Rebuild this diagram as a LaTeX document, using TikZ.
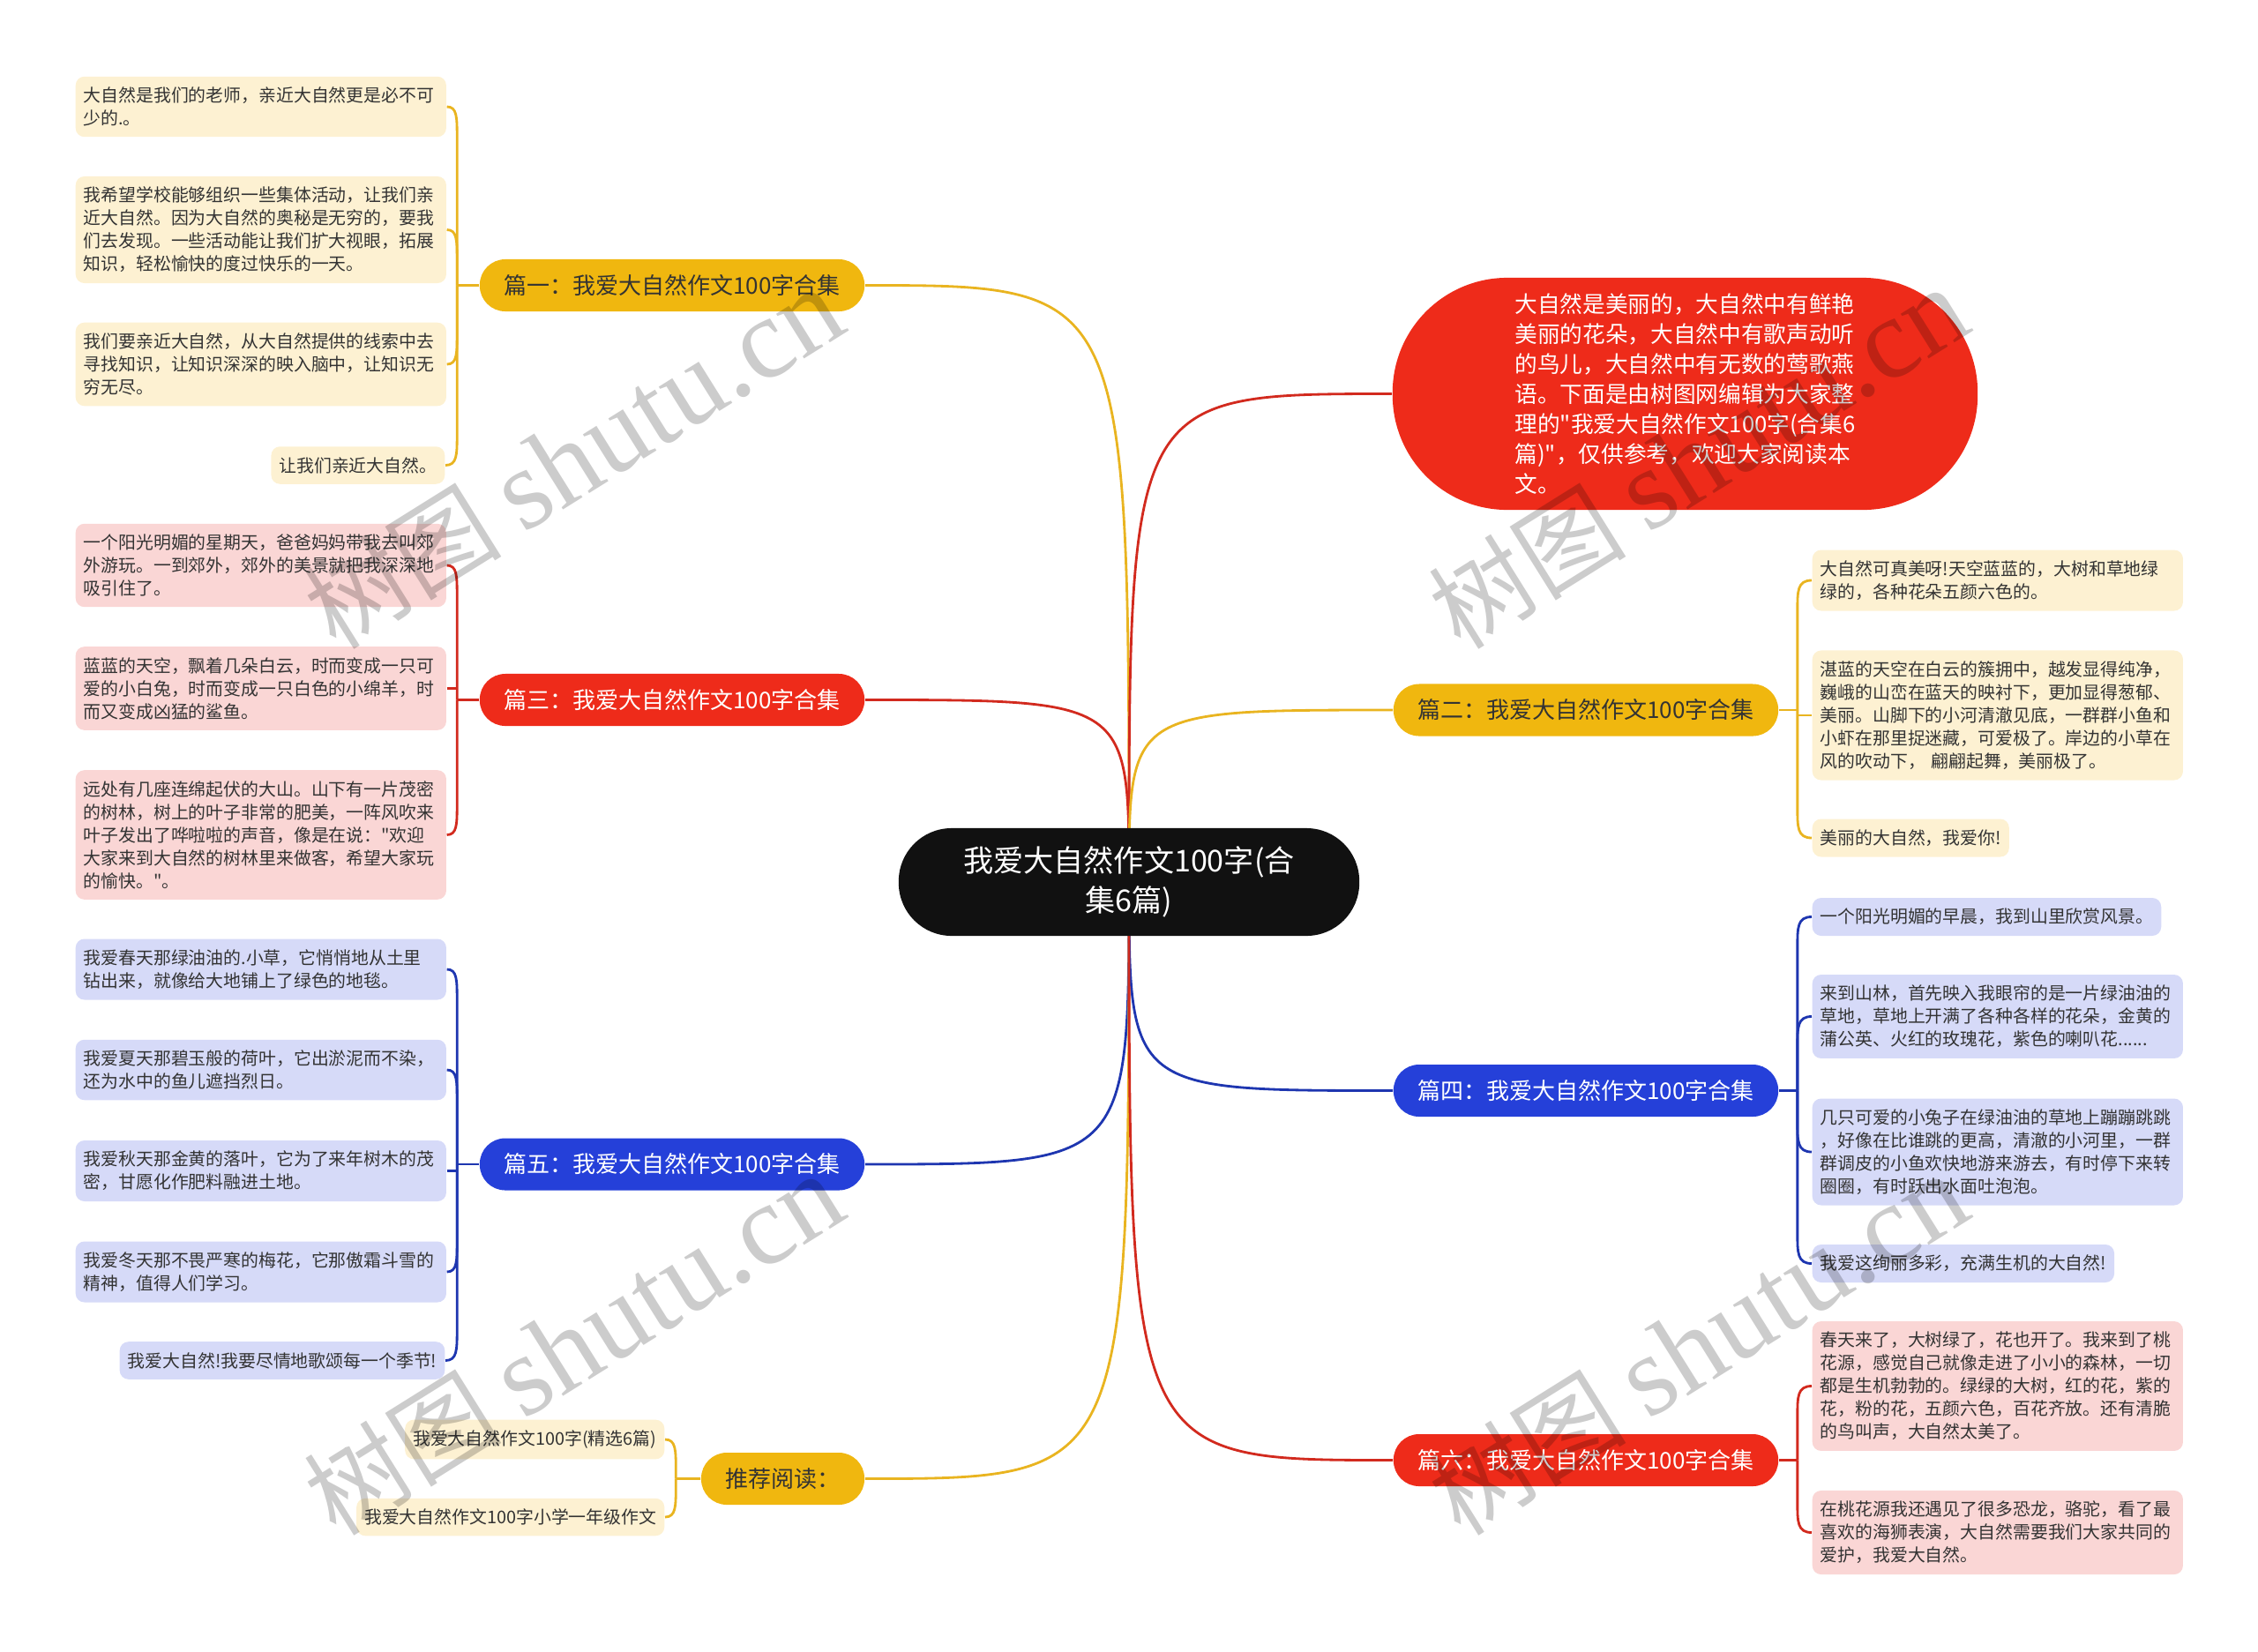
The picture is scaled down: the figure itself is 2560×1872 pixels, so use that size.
\documentclass[tikz,border=0pt]{standalone}
\usepackage{fontspec}
\setmainfont{Noto Sans CJK SC}
\newfontfamily\cjkfont{Noto Sans CJK SC}
\newfontfamily\wmlatin{Liberation Serif}
\usetikzlibrary{calc,backgrounds}

\definecolor{yel}{HTML}{F0B70F}
\definecolor{yelline}{HTML}{E9B420}
\definecolor{yelleaf}{HTML}{FDF1D2}
\definecolor{redfill}{HTML}{EE2B1A}
\definecolor{redline}{HTML}{D22A1E}
\definecolor{redleaf}{HTML}{FAD6D5}
\definecolor{blu}{HTML}{2540D9}
\definecolor{bluline}{HTML}{1E36B0}
\definecolor{bluleaf}{HTML}{D6DAF8}
\definecolor{txt}{HTML}{333333}
\definecolor{centerfill}{HTML}{111111}

\newcommand{\lk}[4]{%
  \draw[conn=#1] (#2) .. controls (#2 -| #3) and ($(#2 -| #3)+(0,{#4*12})$) .. ($(#2 -| #3)+(0,{#4*34})$) -- (#3);}
\newcommand{\lkstraight}[3]{%
  \draw[conn=#1] (#2) -- (#2 -| #3);}

\begin{document}
\begin{tikzpicture}[x=0.01cm,y=-0.01cm,
  leaf/.style={fill=#1, draw=none, rounded corners=0.1cm, inner xsep=0.09cm, inner ysep=0.12cm,
    text=txt, font=\cjkfont\fontsize{5.65}{7.4}\selectfont, align=left},
  mleaf/.style={leaf=#1, text width=4.02cm},
  branch/.style={fill=#1, rounded corners=0.29cm, minimum width=4.36cm, minimum height=0.59cm,
    inner sep=0pt, font=\cjkfont\fontsize{7.4}{9}\selectfont},
  centernode/.style={fill=centerfill, text=white, rounded corners=0.6cm, minimum width=5.22cm,
    minimum height=1.22cm, inner sep=0pt, font=\cjkfont\fontsize{9.7}{13}\selectfont, align=center},
  intronode/.style={fill=redfill, text=white, rounded corners=1.3cm, minimum width=6.63cm,
    minimum height=2.63cm, inner sep=0pt, font=\cjkfont\fontsize{7.3}{9.7}\selectfont, align=left},
  conn/.style={draw=#1, line width=0.8pt},
  wm/.style={text=black, opacity=0.2, font=\cjkfont\fontsize{32}{36}\selectfont, rotate=32}
]
\useasboundingbox (0,0) rectangle (2560,1872);

% ---- center and intro
\node[centernode] (c) at (1280,1000) {我爱大自然作文100字(合\\集6篇)};
\node[intronode] (intro) at (1910.5,446.5) {大自然是美丽的，大自然中有鲜艳\\美丽的花朵，大自然中有歌声动听\\的鸟儿，大自然中有无数的莺歌燕\\语。下面是由树图网编辑为大家整\\理的"我爱大自然作文100字(合集6\\篇)"，仅供参考，欢迎大家阅读本\\文。};

% ---- branches
\node[branch=yel, text=txt] (p1) at (762,323.5) {篇一：我爱大自然作文100字合集};
\node[branch=redfill, text=white] (p3) at (762,793.5) {篇三：我爱大自然作文100字合集};
\node[branch=blu, text=white] (p5) at (762,1320) {篇五：我爱大自然作文100字合集};
\node[branch=yel, text=txt, minimum width=1.85cm] (rec) at (887.5,1676.5) {推荐阅读：};
\node[branch=yel, text=txt] (p2) at (1798,805) {篇二：我爱大自然作文100字合集};
\node[branch=blu, text=white] (p4) at (1798,1236.5) {篇四：我爱大自然作文100字合集};
\node[branch=redfill, text=white] (p6) at (1798,1655.5) {篇六：我爱大自然作文100字合集};

% ---- left leaves
\node[mleaf=yelleaf, anchor=west] (l1a) at (85,121) {大自然是我们的老师，亲近大自然更是必不可\\少的.。};
\node[mleaf=yelleaf, anchor=west] (l1b) at (85,260.5) {我希望学校能够组织一些集体活动，让我们亲\\近大自然。因为大自然的奥秘是无穷的，要我\\们去发现。一些活动能让我们扩大视眼，拓展\\知识，轻松愉快的度过快乐的一天。};
\node[mleaf=yelleaf, anchor=west] (l1c) at (85,413) {我们要亲近大自然，从大自然提供的线索中去\\寻找知识，让知识深深的映入脑中，让知识无\\穷无尽。};
\node[leaf=yelleaf, anchor=east] (l1d) at (505,527.5) {让我们亲近大自然。};

\node[mleaf=redleaf, anchor=west] (l3a) at (85,641) {一个阳光明媚的星期天，爸爸妈妈带我去叫郊\\外游玩。一到郊外，郊外的美景就把我深深地\\吸引住了。};
\node[mleaf=redleaf, anchor=west] (l3b) at (85,780.5) {蓝蓝的天空，飘着几朵白云，时而变成一只可\\爱的小白兔，时而变成一只白色的小绵羊，时\\而又变成凶猛的鲨鱼。};
\node[mleaf=redleaf, anchor=west] (l3c) at (85,946.5) {远处有几座连绵起伏的大山。山下有一片茂密\\的树林，树上的叶子非常的肥美，一阵风吹来\\叶子发出了哗啦啦的声音，像是在说："欢迎\\大家来到大自然的树林里来做客，希望大家玩\\的愉快。"。};

\node[mleaf=bluleaf, anchor=west] (l5a) at (85,1099) {我爱春天那绿油油的.小草，它悄悄地从土里\\钻出来，就像给大地铺上了绿色的地毯。};
\node[mleaf=bluleaf, anchor=west] (l5b) at (85,1213) {我爱夏天那碧玉般的荷叶，它出淤泥而不染，\\还为水中的鱼儿遮挡烈日。};
\node[mleaf=bluleaf, anchor=west] (l5c) at (85,1327.5) {我爱秋天那金黄的落叶，它为了来年树木的茂\\密，甘愿化作肥料融进土地。};
\node[mleaf=bluleaf, anchor=west] (l5d) at (85,1442) {我爱冬天那不畏严寒的梅花，它那傲霜斗雪的\\精神，值得人们学习。};
\node[leaf=bluleaf, anchor=east] (l5e) at (505,1542.5) {我爱大自然!我要尽情地歌颂每一个季节!};

\node[leaf=yelleaf, anchor=east] (ra) at (754,1632) {我爱大自然作文100字(精选6篇)};
\node[leaf=yelleaf, anchor=east] (rb) at (754,1720) {我爱大自然作文100字小学一年级作文};

% ---- right leaves
\node[mleaf=yelleaf, anchor=west] (r2a) at (2054,658) {大自然可真美呀!天空蓝蓝的，大树和草地绿\\绿的，各种花朵五颜六色的。};
\node[mleaf=yelleaf, anchor=west] (r2b) at (2054,811) {湛蓝的天空在白云的簇拥中，越发显得纯净，\\巍峨的山峦在蓝天的映衬下，更加显得葱郁、\\美丽。山脚下的小河清澈见底，一群群小鱼和\\小虾在那里捉迷藏，可爱极了。岸边的小草在\\风的吹动下，\ 翩翩起舞，美丽极了。};
\node[leaf=yelleaf, anchor=west] (r2c) at (2054,950) {美丽的大自然，我爱你!};

\node[leaf=bluleaf, anchor=west] (r4a) at (2054,1039.5) {一个阳光明媚的早晨，我到山里欣赏风景。};
\node[mleaf=bluleaf, anchor=west] (r4b) at (2054,1152.5) {来到山林，首先映入我眼帘的是一片绿油油的\\草地，草地上开满了各种各样的花朵，金黄的\\蒲公英、火红的玫瑰花，紫色的喇叭花......};
\node[mleaf=bluleaf, anchor=west] (r4c) at (2054,1306) {几只可爱的小兔子在绿油油的草地上蹦蹦跳跳\\，好像在比谁跳的更高，清澈的小河里，一群\\群调皮的小鱼欢快地游来游去，有时停下来转\\圈圈，有时跃出水面吐泡泡。};
\node[leaf=bluleaf, anchor=west] (r4d) at (2054,1432.5) {我爱这绚丽多彩，充满生机的大自然!};

\node[mleaf=redleaf, anchor=west] (r6a) at (2054,1571.5) {春天来了，大树绿了，花也开了。我来到了桃\\花源，感觉自己就像走进了小小的森林，一切\\都是生机勃勃的。绿绿的大树，红的花，紫的\\花，粉的花，五颜六色，百花齐放。还有清脆\\的鸟叫声，大自然太美了。};
\node[mleaf=redleaf, anchor=west] (r6b) at (2054,1737.5) {在桃花源我还遇见了很多恐龙，骆驼，看了最\\喜欢的海狮表演，大自然需要我们大家共同的\\爱护，我爱大自然。};

% ---- junctions
\coordinate (j1) at ($(p1.west)+(-25,0)$);
\coordinate (j3) at ($(p3.west)+(-25,0)$);
\coordinate (j5) at ($(p5.west)+(-25,0)$);
\coordinate (jr) at ($(rec.west)+(-28,0)$);
\coordinate (j2) at ($(p2.east)+(21,0)$);
\coordinate (j4) at ($(p4.east)+(21,0)$);
\coordinate (j6) at ($(p6.east)+(21,0)$);

\begin{scope}[on background layer]
% center to branches
\draw[conn=yelline] (p1.east) .. controls (c.center |- p1.east) .. (c.center);
\draw[conn=redline] (p3.east) .. controls (c.center |- p3.east) .. (c.center);
\draw[conn=bluline] (p5.east) .. controls (c.center |- p5.east) .. (c.center);
\draw[conn=yelline] (rec.east) .. controls (c.center |- rec.east) .. (c.center);
\draw[conn=redline] (intro.west) .. controls (c.center |- intro.west) .. (c.center);
\draw[conn=yelline] (p2.west) .. controls (c.center |- p2.west) .. (c.center);
\draw[conn=bluline] (p4.west) .. controls (c.center |- p4.west) .. (c.center);
\draw[conn=redline] (p6.west) .. controls (c.center |- p6.west) .. (c.center);

% branch stubs
\draw[conn=yelline] (p1.west) -- (j1);
\draw[conn=redline] (p3.west) -- (j3);
\draw[conn=bluline] (p5.west) -- (j5);
\draw[conn=yelline] (rec.west) -- (jr);
\draw[conn=yelline] (p2.east) -- (j2);
\draw[conn=bluline] (p4.east) -- (j4);
\draw[conn=redline] (p6.east) -- (j6);

% leaves
\lk{yelline}{l1a.east}{j1}{1}
\lk{yelline}{l1b.east}{j1}{1}
\lk{yelline}{l1c.east}{j1}{-1}
\lk{yelline}{l1d.east}{j1}{-1}

\lk{redline}{l3a.east}{j3}{1}
\lkstraight{redline}{l3b.east}{j3}
\lk{redline}{l3c.east}{j3}{-1}

\lk{bluline}{l5a.east}{j5}{1}
\lk{bluline}{l5b.east}{j5}{1}
\lkstraight{bluline}{l5c.east}{j5}
\lk{bluline}{l5d.east}{j5}{-1}
\lk{bluline}{l5e.east}{j5}{-1}

\lk{yelline}{ra.east}{jr}{1}
\lk{yelline}{rb.east}{jr}{-1}

\lk{yelline}{r2a.west}{j2}{1}
\lkstraight{yelline}{r2b.west}{j2}
\lk{yelline}{r2c.west}{j2}{-1}

\lk{bluline}{r4a.west}{j4}{1}
\lk{bluline}{r4b.west}{j4}{1}
\lk{bluline}{r4c.west}{j4}{-1}
\lk{bluline}{r4d.west}{j4}{-1}

\lk{redline}{r6a.west}{j6}{1}
\lk{redline}{r6b.west}{j6}{-1}
\end{scope}

% ---- watermarks
\node[wm] (w1) at (650,520) {树图 {\wmlatin\fontsize{37}{40}\selectfont shutu.cn}};
\node[wm] (w2) at (1925,520) {树图 {\wmlatin\fontsize{37}{40}\selectfont shutu.cn}};
\node[wm] (w3) at (650,1525) {树图 {\wmlatin\fontsize{37}{40}\selectfont shutu.cn}};
\node[wm] (w4) at (1925,1525) {树图 {\wmlatin\fontsize{37}{40}\selectfont shutu.cn}};
\end{tikzpicture}
\end{document}
